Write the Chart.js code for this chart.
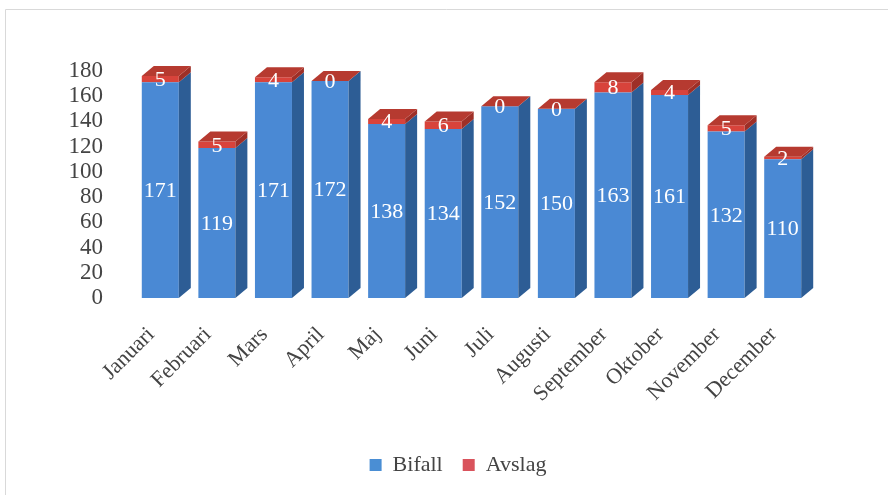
<!DOCTYPE html>
<html><head><meta charset="utf-8">
<script src="https://cdn.jsdelivr.net/npm/chart.js@4"></script>
<style>html,body{margin:0;padding:0;background:#fff}</style>
</head><body>
<canvas id="c" width="888" height="495"></canvas>
<script>
const months = ["Januari","Februari","Mars","April","Maj","Juni","Juli","Augusti","September","Oktober","November","December"];
const bifall = [171,119,171,172,138,134,152,150,163,161,132,110];
const avslag = [5,5,4,0,4,6,0,0,8,4,5,2];
const seriesNames = ["Bifall","Avslag"];
const yMin = 0, yMax = 180, yStep = 20;

const FONT = "'Liberation Serif', 'DejaVu Serif', serif";
const BLUE = '#4a89d4', BLUE_SIDE = '#2d5d95';
const RED = '#d8433b', RED_SIDE = '#9e2f27', RED_TOP = '#b63a30';
const DX = 12, DY = 10;

const frame = {
  id: 'frame',
  beforeDraw(chart) {
    const c = chart.ctx;
    c.save();
    c.strokeStyle = '#d9d9d9'; c.lineWidth = 1;
    c.beginPath(); c.moveTo(5.5, 495); c.lineTo(5.5, 9.5); c.lineTo(888, 9.5); c.stroke();
    c.restore();
  }
};

const depth = {
  id: 'depth',
  afterDatasetsDraw(chart) {
    const c = chart.ctx;
    const m0 = chart.getDatasetMeta(0).data, m1 = chart.getDatasetMeta(1).data;
    c.save();
    m0.forEach((b0, i) => {
      const b1 = m1[i];
      const L = b0.x - b0.width / 2, R = b0.x + b0.width / 2;
      const base = b0.base, y0 = b0.y, y1 = b1.y;
      const poly = (pts, col) => { c.fillStyle = col; c.beginPath(); c.moveTo(pts[0][0], pts[0][1]); for (let k = 1; k < pts.length; k++) c.lineTo(pts[k][0], pts[k][1]); c.closePath(); c.fill(); };
      poly([[R, y0], [R + DX, y0 - DY], [R + DX, base - DY], [R, base]], BLUE_SIDE);
      if (y1 < y0) poly([[R, y1], [R + DX, y1 - DY], [R + DX, y0 - DY], [R, y0]], RED_SIDE);
      poly([[L, y1], [L + DX, y1 - DY], [R + DX, y1 - DY], [R, y1]], RED_TOP);
    });
    c.restore();
  },
  afterDraw(chart) {
    const c = chart.ctx;
    c.save();
    c.fillStyle = '#ffffff';
    c.font = "22px " + FONT;
    c.textAlign = 'center'; c.textBaseline = 'middle';
    [0, 1].forEach(d => {
      const ds = chart.data.datasets[d];
      chart.getDatasetMeta(d).data.forEach((b, i) => {
        c.fillText(String(ds.data[i]), b.x, (b.y + b.base) / 2 + 1);
      });
    });
    c.restore();
  }
};

new Chart(document.getElementById('c'), {
  type: 'bar',
  data: {
    labels: months,
    datasets: [
      { label: seriesNames[0], data: bifall, backgroundColor: BLUE, borderWidth: 0 },
      { label: seriesNames[1], data: avslag, backgroundColor: RED, borderWidth: 0 }
    ]
  },
  options: {
    responsive: false,
    animation: false,
    layout: { padding: { left: 28, right: 0, top: 71, bottom: 9 } },
    datasets: { bar: { categoryPercentage: 1, barPercentage: 0.654 } },
    plugins: {
      legend: {
        position: 'bottom',
        labels: { font: { family: FONT, size: 22 }, color: '#444', boxWidth: 12, boxHeight: 12, padding: 20,
          generateLabels(chart) {
            return chart.data.datasets.map((ds, i) => ({ text: ds.label, fillStyle: i === 0 ? '#4a8ed4' : '#d9535c', strokeStyle: 'transparent', lineWidth: 0, datasetIndex: i, fontColor: '#444' }));
          }
        }
      },
      tooltip: { enabled: false }
    },
    scales: {
      x: {
        stacked: true,
        grid: { display: false, drawTicks: false },
        border: { display: false },
        ticks: { font: { family: FONT, size: 22 }, color: '#444', minRotation: 45, maxRotation: 45, padding: 24, labelOffset: -9, autoSkip: false },
        afterFit(s) { s.height = 136; }
      },
      y: {
        stacked: true,
        min: yMin, max: yMax,
        grid: { display: false, drawTicks: false },
        border: { display: false },
        ticks: { stepSize: yStep, font: { family: FONT, size: 23 }, color: '#444', padding: 29, autoSkip: false },
        afterFit(s) { s.width = 104; }
      },
      yR: {
        position: 'right',
        display: true,
        grid: { display: false, drawTicks: false },
        border: { display: false },
        ticks: { display: false },
        afterFit(s) { s.width = 77; }
      }
    }
  },
  plugins: [frame, depth]
});
</script>
</body></html>
